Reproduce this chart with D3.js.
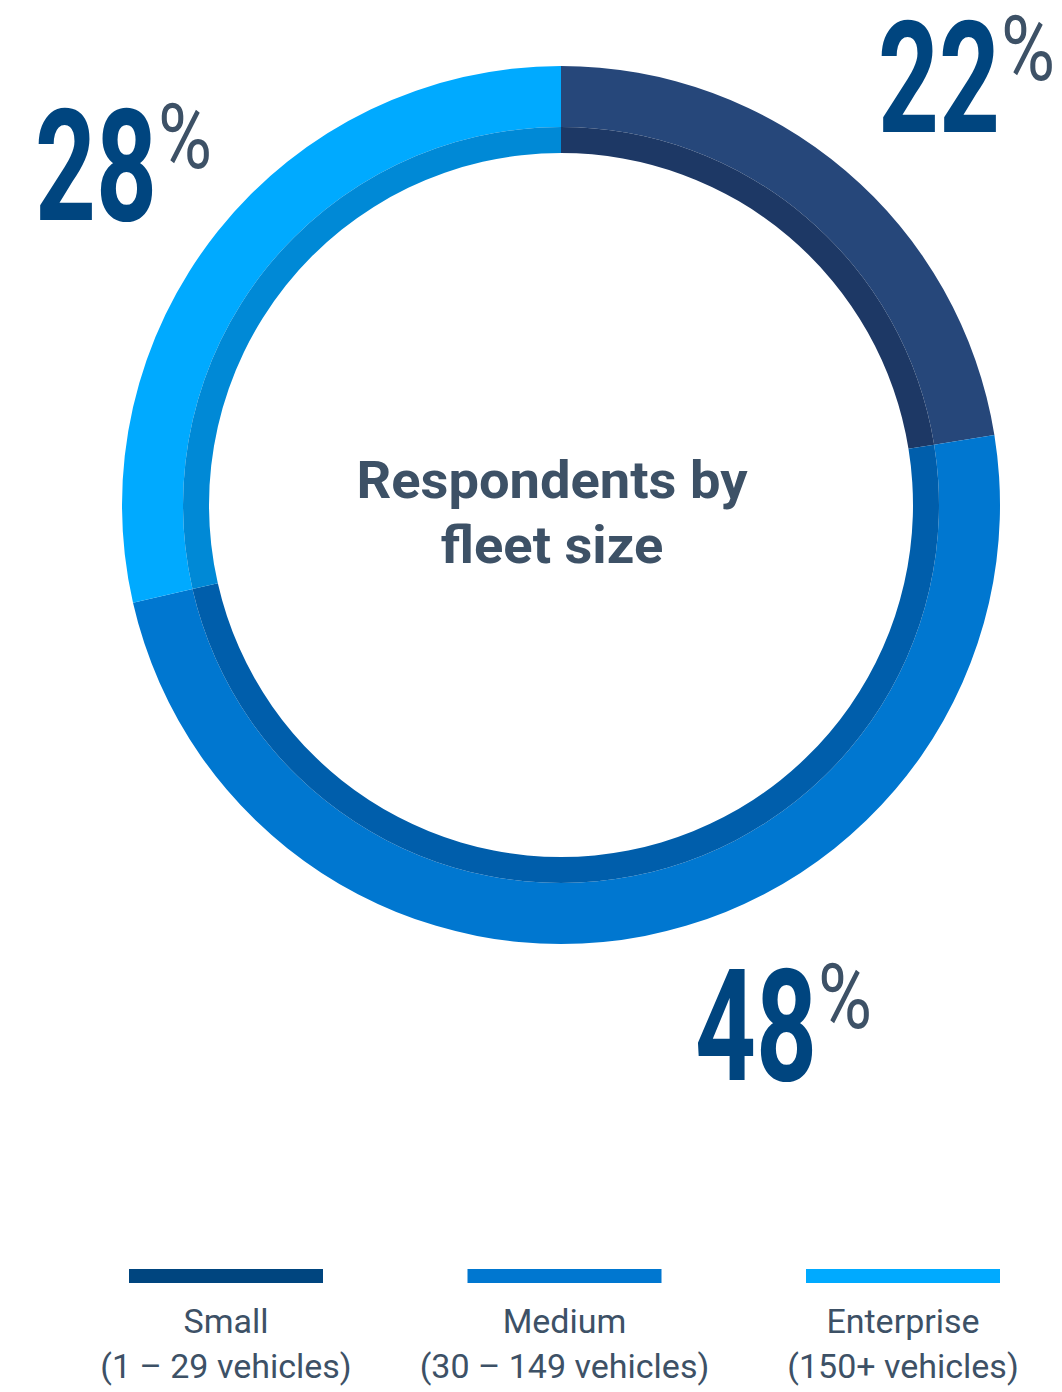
<!DOCTYPE html>
<html>
<head>
<meta charset="utf-8">
<script src="https://cdn.jsdelivr.net/npm/d3@7"></script>
<style>
  html, body { margin: 0; padding: 0; background: #ffffff; }
  svg { display: block; }
</style>
</head>
<body>
<svg id="chart" width="1062" height="1392"></svg>
<script>
// ---- Data ----
const categories = ["Small", "Medium", "Enterprise"];
const subLabels = ["(1 \u2013 29 vehicles)", "(30 \u2013 149 vehicles)", "(150+ vehicles)"];
const values = [22, 48, 28];
const outerColors = ["#26477a", "#0077d0", "#00aaff"];
const innerColors = ["#1d3865", "#005eab", "#0089d6"];
const legendColors = ["#00457f", "#0077d0", "#00aaff"];
const titleLines = ["Respondents by", "fleet size"];

// ---- Layout ----
const svg = d3.select("#chart");
const cx = 561, cy = 505;
const rInner = 352, rMid = 378, rOuter = 439;
const numColor = "#00457f";
const pctColor = "#3d5166";
const textColor = "#3d5166";
const font = "Roboto, 'Noto Sans', sans-serif";

const pie = d3.pie().sort(null).value(d => d);
const arcs = pie(values);

const g = svg.append("g").attr("transform", `translate(${cx},${cy})`);
const arcOuter = d3.arc().innerRadius(rMid).outerRadius(rOuter);
const arcInnerBand = d3.arc().innerRadius(rInner).outerRadius(rMid);

g.selectAll("path.outer").data(arcs).join("path")
  .attr("class", "outer")
  .attr("d", arcOuter)
  .attr("fill", (d, i) => outerColors[i]);

g.selectAll("path.inner").data(arcs).join("path")
  .attr("class", "inner")
  .attr("d", arcInnerBand)
  .attr("fill", (d, i) => innerColors[i]);

// helper: text squeezed horizontally to a target ink width
function fitted(parent, str, x, y, size, weight, targetW, color, anchor) {
  const t = parent.append("text")
    .attr("font-family", font)
    .attr("font-size", size)
    .attr("font-weight", weight)
    .attr("fill", color)
    .attr("text-anchor", anchor || "start")
    .text(str);
  const w = t.node().getBBox().width;
  const s = targetW / w;
  t.attr("transform", `translate(${x},${y}) scale(${s},1)`);
  return t;
}

// ---- Percent labels ----
const labelLayout = [
  { x: 878, y: 132 },   // Small
  { x: 695, y: 1080 },  // Medium
  { x: 35, y: 220 }     // Enterprise
];
values.forEach((v, i) => {
  const L = labelLayout[i];
  fitted(svg, String(v), L.x, L.y, 155, 700, 122, numColor, "start");
  fitted(svg, "%", L.x + 123, L.y - 52, 90, 400, 54, pctColor, "start");
});

// ---- Center title ----
const titleG = svg.append("g");
const s1 = titleG.append("text")
  .attr("font-family", font).attr("font-size", 52).attr("font-weight", 700)
  .attr("fill", textColor).attr("text-anchor", "middle").text(titleLines[0]);
const w1 = s1.node().getBBox().width;
const sc = 392 / w1;
s1.attr("transform", `translate(552,498) scale(${sc},1)`);
titleG.append("text")
  .attr("font-family", font).attr("font-size", 52).attr("font-weight", 700)
  .attr("fill", textColor).attr("text-anchor", "middle")
  .attr("transform", `translate(552,563) scale(${sc},1)`)
  .text(titleLines[1]);

// ---- Legend ----
const lx = d3.scalePoint().domain(categories).range([226, 903]);
const leg = svg.append("g").selectAll("g").data(categories).join("g")
  .attr("transform", d => `translate(${lx(d)},0)`);
leg.append("rect")
  .attr("x", -97).attr("y", 1269).attr("width", 194).attr("height", 14)
  .attr("fill", (d, i) => legendColors[i]);
leg.append("text")
  .attr("y", 1333).attr("text-anchor", "middle")
  .attr("font-family", font).attr("font-size", 34).attr("font-weight", 400)
  .attr("fill", textColor).text(d => d);
leg.append("text")
  .attr("y", 1378).attr("text-anchor", "middle")
  .attr("font-family", font).attr("font-size", 34).attr("font-weight", 400)
  .attr("fill", textColor).text((d, i) => subLabels[i]);
</script>
</body>
</html>
